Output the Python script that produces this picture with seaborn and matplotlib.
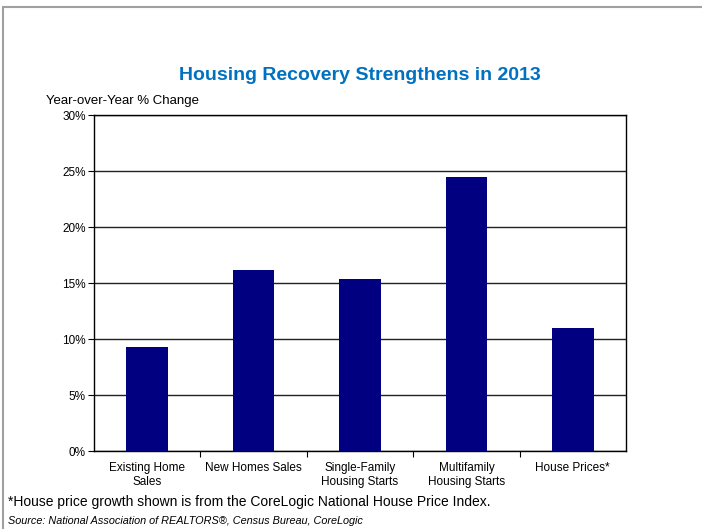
import matplotlib
matplotlib.use("Agg")
import matplotlib.pyplot as plt
import matplotlib.patches as mpatches
from matplotlib.ticker import FuncFormatter, FixedLocator
import seaborn as sns
import pandas as pd

categories = ["Existing Home\nSales", "New Homes Sales", "Single-Family\nHousing Starts",
              "Multifamily\nHousing Starts", "House Prices*"]
values = [9.3, 16.2, 15.4, 24.5, 11.0]
yticks = [0, 5, 10, 15, 20, 25, 30]

sns.set_theme(style="white")
plt.rcParams['font.family'] = ['Liberation Sans', 'DejaVu Sans']

df = pd.DataFrame({"cat": categories, "val": values})

fig = plt.figure(figsize=(7.02, 5.29), dpi=100)
ax = fig.add_axes([94/702, 1-451/529, (626-94)/702, (451-115)/529])

sns.barplot(data=df, x="cat", y="val", ax=ax, color="#000080", saturation=1,
            width=0.39, edgecolor="none", zorder=3)

ax.set_ylim(0, 30)
ax.set_xlim(-0.5, 4.5)
ax.set_yticks(yticks)
ax.yaxis.set_major_formatter(FuncFormatter(lambda v, p: f"{int(v)}%"))
ax.grid(axis="y", color="#222222", linewidth=1.0, zorder=0)
ax.set_axisbelow(True)
for s in ax.spines.values():
    s.set_color("black")
    s.set_linewidth(1.0)
ax.set_xlabel("")
ax.set_ylabel("")
ax.tick_params(axis="y", which="major", left=True, length=4, width=0.8, color="black",
               labelsize=8.5, pad=2, labelcolor="black")
ax.tick_params(axis="x", which="major", bottom=False, length=0, labelsize=8.5, pad=8,
               labelcolor="black")
ax.xaxis.set_minor_locator(FixedLocator([0.5, 1.5, 2.5, 3.5]))
ax.tick_params(axis="x", which="minor", bottom=True, length=4, width=0.8, color="black")

fig.text(0.5 * (94 + 626) / 702, 1 - 75/529, "Housing Recovery Strengthens in 2013",
         ha="center", va="center", fontsize=14, fontweight="bold", color="#0070C0")
fig.text(46/702, 1 - 101/529, "Year-over-Year % Change", ha="left", va="center",
         fontsize=9.5, color="black")
fig.text(8/702, 1 - 502/529, "*House price growth shown is from the CoreLogic National House Price Index.",
         ha="left", va="center", fontsize=10, color="black")
fig.text(8/702, 1 - 521/529, "Source: National Association of REALTORS®, Census Bureau, CoreLogic",
         ha="left", va="center", fontsize=7.8, style="italic", color="black")

frame = mpatches.Rectangle((3/702, -0.1), 1.2, 1 - 7/529 + 0.1, transform=fig.transFigure,
                           fill=False, edgecolor="#a0a0a0", linewidth=1.5, clip_on=False)
fig.patches.append(frame)

fig.savefig("out.png", dpi=100)
